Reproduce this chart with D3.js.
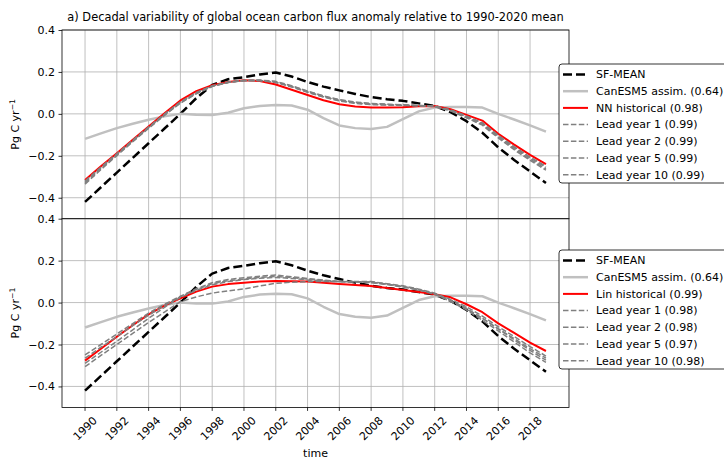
<!DOCTYPE html>
<html>
<head>
<meta charset="utf-8">
<script src="https://cdn.jsdelivr.net/npm/d3@7"></script>
<style>
  html, body { margin: 0; padding: 0; background: #fff; }
  svg { display: block; font-family: "DejaVu Sans", sans-serif; }
</style>
</head>
<body>
<svg id="chart" width="724" height="459"></svg>
<script>
// Annual global ocean carbon flux anomalies (Pg C / yr), 1990-2019
const years = [1990,1991,1992,1993,1994,1995,1996,1997,1998,1999,
               2000,2001,2002,2003,2004,2005,2006,2007,2008,2009,
               2010,2011,2012,2013,2014,2015,2016,2017,2018,2019];

const sfMean = [-0.42,-0.35,-0.28,-0.21,-0.14,-0.07,0.0,0.075,0.138,0.165,
                0.175,0.188,0.197,0.178,0.152,0.13,0.112,0.095,0.08,0.07,
                0.062,0.05,0.038,0.008,-0.035,-0.09,-0.16,-0.22,-0.275,-0.33];

const canesm5 = [-0.119,-0.093,-0.068,-0.047,-0.028,-0.012,0.0,-0.004,-0.005,0.005,
                 0.027,0.038,0.042,0.04,0.02,-0.02,-0.055,-0.068,-0.072,-0.062,
                 -0.025,0.012,0.03,0.033,0.033,0.03,0.0,-0.027,-0.055,-0.085];

// panel a: neural-network reconstruction
const nnHist = [-0.315,-0.25,-0.188,-0.124,-0.06,0.003,0.064,0.108,0.137,0.152,
                0.16,0.157,0.14,0.115,0.09,0.065,0.046,0.035,0.03,0.03,
                0.032,0.036,0.038,0.022,-0.005,-0.032,-0.095,-0.147,-0.196,-0.24];
const nnLead1 = [-0.325,-0.258,-0.193,-0.128,-0.065,-0.003,0.055,0.1,0.133,0.15,
                 0.158,0.158,0.15,0.128,0.103,0.08,0.062,0.05,0.044,0.042,
                 0.04,0.039,0.036,0.018,-0.012,-0.045,-0.105,-0.16,-0.21,-0.255];
const nnLead2 = [-0.33,-0.262,-0.196,-0.131,-0.067,-0.005,0.053,0.098,0.132,0.151,
                 0.16,0.16,0.153,0.132,0.107,0.084,0.066,0.054,0.048,0.045,
                 0.042,0.04,0.036,0.016,-0.016,-0.05,-0.11,-0.166,-0.216,-0.262];
const nnLead5 = [-0.32,-0.254,-0.19,-0.126,-0.063,-0.001,0.057,0.102,0.134,0.151,
                 0.159,0.159,0.151,0.13,0.105,0.082,0.064,0.052,0.046,0.043,
                 0.041,0.039,0.037,0.019,-0.01,-0.043,-0.102,-0.156,-0.206,-0.25];
const nnLead10 = [-0.335,-0.266,-0.199,-0.133,-0.069,-0.007,0.051,0.096,0.131,0.15,
                  0.159,0.161,0.155,0.134,0.109,0.086,0.068,0.056,0.05,0.046,
                  0.043,0.04,0.035,0.014,-0.019,-0.054,-0.115,-0.171,-0.222,-0.268];

// panel b: linear reconstruction
const linHist = [-0.277,-0.22,-0.163,-0.108,-0.056,-0.015,0.02,0.052,0.076,0.088,
                 0.095,0.1,0.103,0.102,0.1,0.095,0.089,0.084,0.079,0.07,
                 0.06,0.05,0.04,0.025,-0.008,-0.046,-0.099,-0.145,-0.191,-0.231];
const linLead1 = [-0.306,-0.252,-0.2,-0.147,-0.095,-0.045,0.004,0.027,0.045,0.056,
                  0.065,0.079,0.092,0.097,0.1,0.1,0.1,0.098,0.095,0.086,
                  0.075,0.06,0.042,0.01,-0.03,-0.075,-0.125,-0.172,-0.22,-0.265];
const linLead2 = [-0.29,-0.237,-0.185,-0.13,-0.075,-0.023,0.025,0.058,0.085,0.1,
                  0.11,0.116,0.12,0.115,0.108,0.103,0.1,0.1,0.1,0.09,
                  0.08,0.064,0.045,0.015,-0.02,-0.065,-0.115,-0.162,-0.21,-0.255];
const linLead5 = [-0.25,-0.2,-0.15,-0.1,-0.05,-0.008,0.03,0.066,0.095,0.11,
                  0.118,0.126,0.131,0.123,0.115,0.107,0.1,0.099,0.098,0.088,
                  0.075,0.06,0.04,0.005,-0.035,-0.085,-0.135,-0.188,-0.24,-0.285];
const linLead10 = [-0.265,-0.213,-0.162,-0.11,-0.06,-0.015,0.028,0.062,0.09,0.104,
                   0.112,0.12,0.125,0.119,0.112,0.105,0.1,0.099,0.097,0.087,
                   0.077,0.062,0.042,0.01,-0.028,-0.075,-0.125,-0.178,-0.228,-0.275];

const xTicks = [1990,1992,1994,1996,1998,2000,2002,2004,2006,2008,2010,2012,2014,2016,2018];
const yTicks = [-0.4,-0.2,0.0,0.2,0.4];

const title = "a) Decadal variability of global ocean carbon flux anomaly relative to 1990-2020 mean";

const panels = [
  { hist: nnHist, histLabel: "NN historical (0.98)",
    leads: [nnLead1, nnLead2, nnLead5, nnLead10],
    leadLabels: ["Lead year 1 (0.99)","Lead year 2 (0.99)","Lead year 5 (0.99)","Lead year 10 (0.99)"] },
  { hist: linHist, histLabel: "Lin historical (0.99)",
    leads: [linLead1, linLead2, linLead5, linLead10],
    leadLabels: ["Lead year 1 (0.98)","Lead year 2 (0.98)","Lead year 5 (0.97)","Lead year 10 (0.98)"] }
];

// ---- layout ----
const svg = d3.select("#chart");
const left = 62, right = 569;
const fs = 11;
const panelBox = [{ top: 30, bottom: 218.7, legendTop: 64 },
                  { top: 218.7, bottom: 407.4, legendTop: 250 }];

const x = d3.scaleLinear().domain([1988.55, 2020.45]).range([left, right]);

const styles = {
  sf:   { stroke: "#000000", width: 2.5, dash: "9,4" },
  can:  { stroke: "#c0c0c0", width: 2.5, dash: null },
  hist: { stroke: "#ff0000", width: 2,   dash: null },
  lead: { stroke: "#808080", width: 1.5, dash: "5.5,2.4" }
};

svg.append("text")
  .attr("x", (left + right) / 2).attr("y", 21)
  .attr("text-anchor", "middle")
  .attr("font-size", 11.4)
  .text(title);

panels.forEach((p, i) => {
  const box = panelBox[i];
  const y = d3.scaleLinear().domain([-0.5, 0.4]).range([box.bottom, box.top]);
  const g = svg.append("g");

  // grid
  g.selectAll("line.vgrid").data(xTicks).join("line")
    .attr("x1", d => x(d)).attr("x2", d => x(d))
    .attr("y1", box.top).attr("y2", box.bottom)
    .attr("stroke", "#b0b0b0").attr("stroke-width", 0.8);
  g.selectAll("line.hgrid").data(yTicks).join("line")
    .attr("x1", left).attr("x2", right)
    .attr("y1", d => y(d)).attr("y2", d => y(d))
    .attr("stroke", "#b0b0b0").attr("stroke-width", 0.8);

  // y axis
  const yAxis = d3.axisLeft(y).tickValues(yTicks).tickSize(3.5).tickPadding(3.5)
    .tickFormat(d => d3.format(".1f")(d).replace("-", "\u2212"));
  const ya = g.append("g").attr("transform", `translate(${left},0)`).call(yAxis);
  ya.select(".domain").remove();
  ya.selectAll("line").attr("stroke", "#000").attr("stroke-width", 0.8);
  ya.selectAll("text").attr("font-size", fs).attr("font-family", "DejaVu Sans").attr("fill", "#000");

  // y label
  const cy = (box.top + box.bottom) / 2;
  const yl = g.append("text")
    .attr("transform", `translate(19,${cy}) rotate(-90)`)
    .attr("text-anchor", "middle")
    .attr("font-size", fs);
  yl.append("tspan").text("Pg C yr");
  yl.append("tspan").attr("font-size", 7.7).attr("dy", -4.5).text("\u22121");

  // series
  const line = d3.line().x((d, k) => x(years[k])).y(d => y(d));
  const clipId = "clip" + i;
  svg.append("clipPath").attr("id", clipId).append("rect")
    .attr("x", left).attr("y", box.top).attr("width", right - left).attr("height", box.bottom - box.top);
  const lg = g.append("g").attr("clip-path", `url(#${clipId})`);
  const series = [
    { data: sfMean, s: styles.sf },
    { data: canesm5, s: styles.can },
    { data: p.hist, s: styles.hist },
    ...p.leads.map(d => ({ data: d, s: styles.lead }))
  ];
  series.forEach(sr => {
    lg.append("path").attr("d", line(sr.data))
      .attr("fill", "none").attr("stroke", sr.s.stroke)
      .attr("stroke-width", sr.s.width)
      .attr("stroke-dasharray", sr.s.dash)
      .attr("stroke-linejoin", "round");
  });

  // frame
  g.append("rect").attr("x", left).attr("y", box.top)
    .attr("width", right - left).attr("height", box.bottom - box.top)
    .attr("fill", "none").attr("stroke", "#000").attr("stroke-width", 0.8);

  // legend
  const labels = ["SF-MEAN", "CanESM5 assim. (0.64)", p.histLabel, ...p.leadLabels];
  const lstyles = [styles.sf, styles.can, styles.hist, styles.lead, styles.lead, styles.lead, styles.lead];
  const L = svg.append("g").attr("transform", `translate(559,${box.legendTop})`);
  L.append("rect").attr("x", 0).attr("y", 0).attr("width", 200).attr("height", 119)
    .attr("rx", 3).attr("fill", "#fff").attr("stroke", "#000").attr("stroke-width", 0.8);
  labels.forEach((t, k) => {
    const ry = 10.5 + k * 16.7;
    const s = lstyles[k];
    L.append("line").attr("x1", 4).attr("x2", 29).attr("y1", ry).attr("y2", ry)
      .attr("stroke", s.stroke).attr("stroke-width", s.width).attr("stroke-dasharray", s.dash);
    L.append("text").attr("x", 37).attr("y", ry).attr("dy", "0.35em")
      .attr("font-size", fs).text(t);
  });

  // x axis on the lower panel only
  if (i === 1) {
    const xa = g.append("g").attr("transform", `translate(0,${box.bottom})`);
    xa.selectAll("line").data(xTicks).join("line")
      .attr("x1", d => x(d)).attr("x2", d => x(d)).attr("y1", 0).attr("y2", 3.5)
      .attr("stroke", "#000").attr("stroke-width", 0.8);
    xa.selectAll("text").data(xTicks).join("text")
      .attr("transform", d => `translate(${x(d)},${21}) rotate(-45)`)
      .attr("text-anchor", "middle").attr("dy", "0.35em")
      .attr("font-size", fs).text(d => d);
    svg.append("text").attr("x", (left + right) / 2).attr("y", 457)
      .attr("text-anchor", "middle").attr("font-size", fs).text("time");
  }
});
</script>
</body>
</html>
